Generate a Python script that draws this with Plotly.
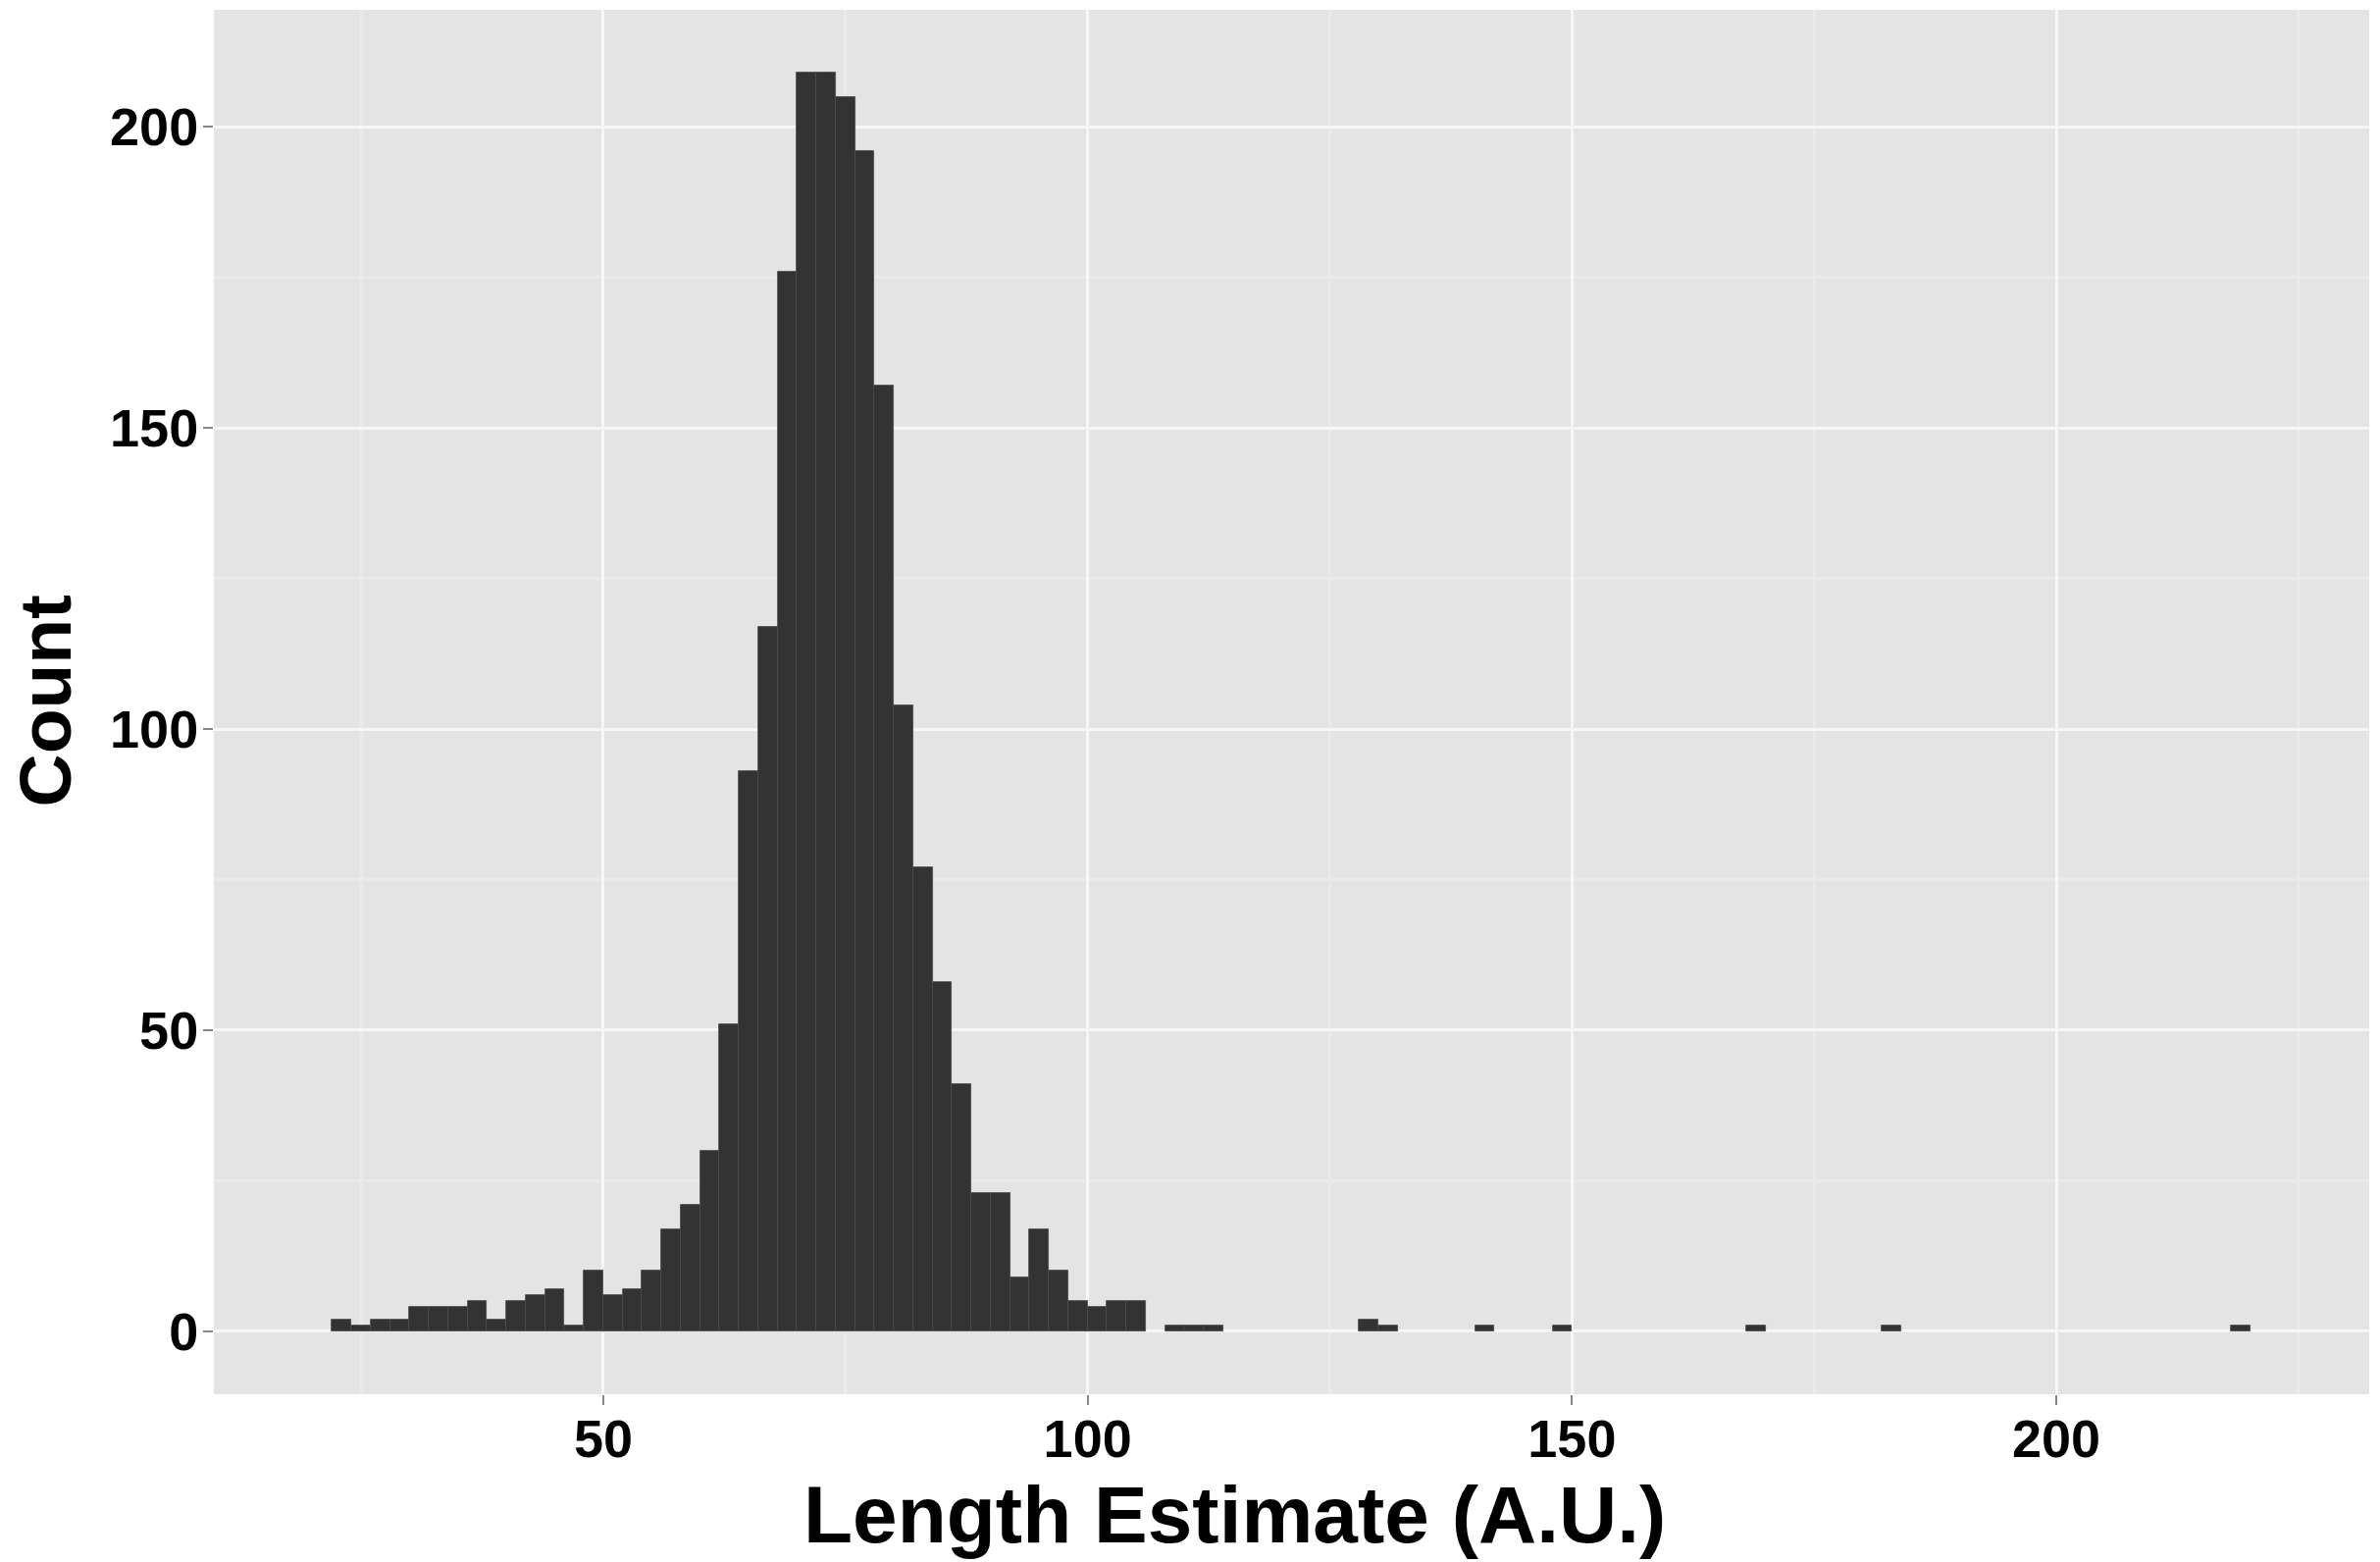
import plotly.graph_objects as go

# Histogram data (bin width 2, first bin starts at 22)
bin_start = 22
bin_width = 2
counts = [
    2, 1, 2, 2, 4, 4, 4, 5, 2, 5,        # 22-40
    6, 7, 1, 10, 6, 7, 10, 17, 21, 30,   # 42-60
    51, 93, 117, 176, 209, 209, 205, 196, 157, 104,  # 62-80
    77, 58, 41, 23, 23, 9, 17, 10, 5, 4,  # 82-100
    5, 5, 0, 1, 1, 1, 0, 0, 0, 0,         # 102-120
    0, 0, 0, 2, 1, 0, 0, 0, 0, 1,         # 122-140
    0, 0, 0, 1, 0, 0, 0, 0, 0, 0,         # 142-160
    0, 0, 0, 1, 0, 0, 0, 0, 0, 0,         # 162-180
    1, 0, 0, 0, 0, 0, 0, 0, 0, 0,         # 182-200
    0, 0, 0, 0, 0, 0, 0, 0, 1             # 202-218
]
x_ticks = [50, 100, 150, 200]
y_ticks = [0, 50, 100, 150, 200]
x_title = "Length Estimate (A.U.)"
y_title = "Count"

centers = [bin_start + bin_width * i + bin_width / 2 for i in range(len(counts))]
heights = [c if c > 0 else None for c in counts]  # empty bins draw nothing

fig = go.Figure(go.Bar(
    x=centers, y=heights, width=bin_width,
    marker=dict(color="#333333", line=dict(color="#4a4a4a", width=0.8)),
))

FONT = "Liberation Sans, Arial, Helvetica, sans-serif"

fig.update_layout(
    width=2426, height=1592,
    margin=dict(l=218, r=11, t=10, b=171),
    paper_bgcolor="white",
    plot_bgcolor="#E4E4E4",
    showlegend=False,
    bargap=0,
    font=dict(family=FONT, color="black"),
)
fig.update_xaxes(
    range=[9.8, 232.3],
    tickvals=x_ticks,
    ticks="outside", ticklen=10, tickwidth=2, tickcolor="#888888",
    tickfont=dict(size=54, family=FONT, weight="bold", color="black"),
    showgrid=True, gridcolor="#F6F6F6", gridwidth=2.5,
    minor=dict(dtick=50, tick0=25, showgrid=True, gridcolor="#EAEAEA", gridwidth=2.5, ticks=""),
    zeroline=False, showline=False,
    ticklabelstandoff=-12,
)
fig.update_yaxes(
    range=[-10.45, 219.45],
    tickvals=y_ticks,
    ticks="outside", ticklen=10, tickwidth=2, tickcolor="#888888",
    tickfont=dict(size=54, family=FONT, weight="bold", color="black"),
    showgrid=True, gridcolor="#F6F6F6", gridwidth=2.5,
    minor=dict(dtick=50, tick0=25, showgrid=True, gridcolor="#EAEAEA", gridwidth=2.5, ticks=""),
    zeroline=False, showline=False,
    ticklabelstandoff=-6,
)

fig.add_annotation(
    text=x_title, xref="paper", yref="paper", x=0.4738, y=-0.087,
    xanchor="center", yanchor="middle", showarrow=False,
    font=dict(size=82, family=FONT, weight="bold", color="black"),
)
fig.add_annotation(
    text=y_title, xref="paper", yref="paper", x=-0.0781, y=0.501,
    xanchor="center", yanchor="middle", showarrow=False, textangle=-90,
    font=dict(size=75, family=FONT, weight="bold", color="black"),
)

fig.write_html("out.html")
